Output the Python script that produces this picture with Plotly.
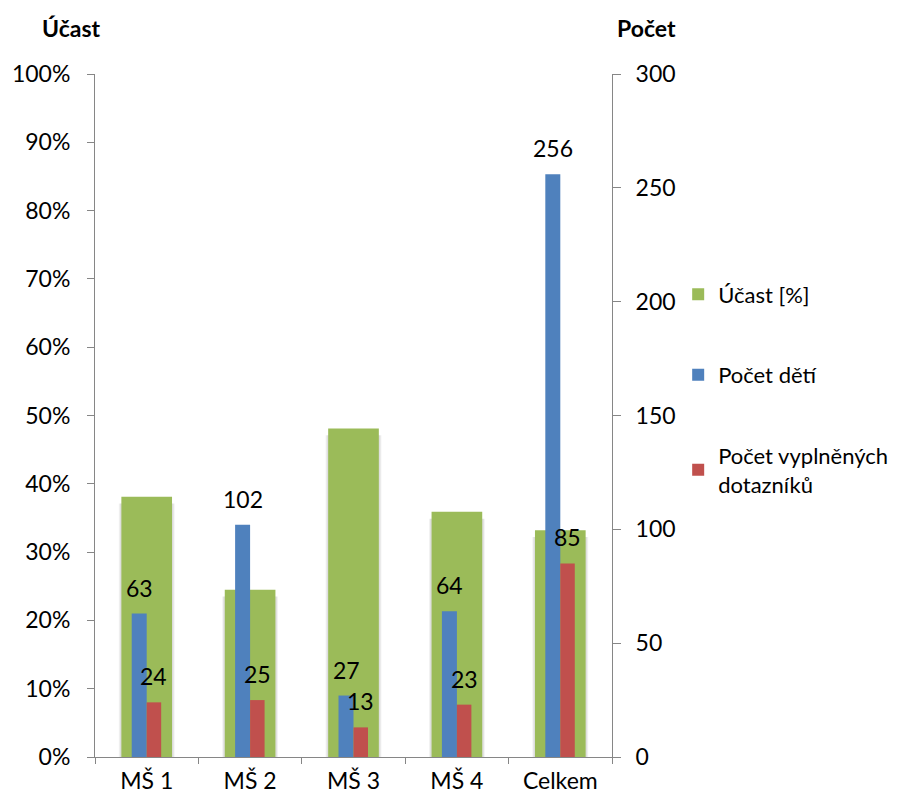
import plotly.graph_objects as go

categories = ["MŠ 1", "MŠ 2", "MŠ 3", "MŠ 4", "Celkem"]
ucast = [0.381, 0.245, 0.481, 0.359, 0.332]
pocet_deti = [63, 102, 27, 64, 256]
pocet_dotazniku = [24, 25, 13, 23, 85]

GREEN = "#9BBB59"
BLUE = "#4F81BD"
RED = "#C0504D"
FONT = "Lato"

# page has an 8px body margin; compensate
W, H = 900, 795
L, T, R, B = 87, 66, 296, 46

fig = go.Figure()

# soft shadow behind green bars
for w, a in [(0.54, 0.05), (0.52, 0.08)]:
    fig.add_trace(go.Bar(
        x=categories, y=[v - 0.01 for v in ucast], width=w, offset=-w / 2,
        marker=dict(color=f"rgba(0,0,0,{a})", line=dict(width=0)),
        showlegend=False, hoverinfo="skip", yaxis="y"))
fig.add_trace(go.Bar(
    x=categories, y=ucast, width=0.49, offset=-0.245,
    marker=dict(color=GREEN, line=dict(width=0)),
    name="Účast [%]", yaxis="y", legendgroup="a", hoverinfo="skip"))
fig.add_trace(go.Bar(
    x=categories, y=pocet_deti, width=0.145, offset=-0.145,
    marker=dict(color=BLUE, line=dict(width=0)),
    name="Počet dětí", yaxis="y2", legendgroup="b"))
fig.add_trace(go.Bar(
    x=categories, y=pocet_dotazniku, width=0.14, offset=0.0,
    marker=dict(color=RED, line=dict(width=0)),
    name="Počet vyplněných<br>dotazníků", yaxis="y2", legendgroup="c"))

annotations = []
for i, v in enumerate(pocet_deti):
    annotations.append(dict(x=i - 0.0725, y=v, xref="x", yref="y2", text=str(v),
                            showarrow=False, yanchor="bottom", yshift=10,
                            font=dict(size=23, color="#000")))
for i, v in enumerate(pocet_dotazniku):
    annotations.append(dict(x=i + 0.07, y=v, xref="x", yref="y2", text=str(v),
                            showarrow=False, yanchor="bottom", yshift=10,
                            font=dict(size=23, color="#000")))

pw = W - L - R
ph = H - T - B
for txt, px in [("<b>Účast</b>", 63), ("<b>Počet</b>", 638)]:
    annotations.append(dict(text=txt, x=(px - L) / pw, y=1 + (T - 20) / ph,
                            xref="paper", yref="paper", xanchor="center",
                            yanchor="middle", showarrow=False,
                            font=dict(size=23, color="#000")))

axis_col = "#868686"
fig.update_layout(
    width=W, height=H,
    margin=dict(l=L, r=R, t=T, b=B, autoexpand=False),
    plot_bgcolor="white", paper_bgcolor="white",
    barmode="overlay",
    font=dict(family=FONT, size=23, color="#000"),
    xaxis=dict(type="category", showline=True, linecolor=axis_col, linewidth=1,
               ticks="outside", tickson="boundaries", ticklen=6, tickcolor=axis_col,
               showgrid=False, tickfont=dict(size=23), ticklabelstandoff=3,
               automargin=False),
    yaxis=dict(range=[0, 1], dtick=0.1, tickformat=".0%", showline=True,
               linecolor=axis_col, ticks="outside", ticklen=7, tickcolor=axis_col,
               showgrid=False, zeroline=False, tickfont=dict(size=23),
               ticklabelstandoff=12, automargin=False),
    yaxis2=dict(range=[0, 300], dtick=50, overlaying="y", side="right",
                showline=True, linecolor=axis_col, ticks="outside", ticklen=8,
                tickcolor=axis_col, showgrid=False, zeroline=False,
                tickfont=dict(size=23), ticklabelstandoff=10, automargin=False),
    legend=dict(x=1.128, y=0.708, xanchor="left", yanchor="top",
                font=dict(size=22), tracegroupgap=49, itemwidth=30,
                bgcolor="rgba(0,0,0,0)"),
    annotations=annotations,
)

fig.write_html("out.html")
